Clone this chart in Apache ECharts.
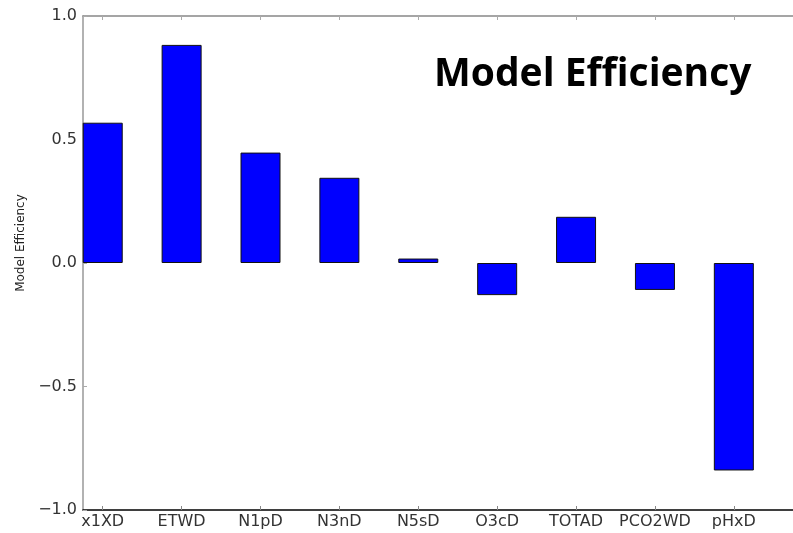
<!DOCTYPE html>
<html><head><meta charset="utf-8">
<script src="https://cdn.jsdelivr.net/npm/echarts@6/dist/echarts.min.js"></script>
<style>html,body{margin:0;padding:0;background:#fff}#c{width:793px;height:533px}</style>
</head><body><div id="c"></div>
<script>
const categories = ['x1XD','ETWD','N1pD','N3nD','N5sD','O3cD','TOTAD','PCO2WD','pHxD'];
const values = [0.568, 0.883, 0.447, 0.345, 0.018, -0.13, 0.187, -0.109, -0.84];
const yTicks = [-1.0, -0.5, 0.0, 0.5, 1.0];
const positions = categories.map((c, i) => i);

const chart = echarts.init(document.getElementById('c'), null, {renderer: 'canvas'});
const fmtY = v => (v < 0 ? '\u2212' : '') + Math.abs(v).toFixed(1);
const tickFont = {fontFamily: 'DejaVu Sans', fontSize: 16, color: '#333'};
chart.setOption({
  animation: false,
  backgroundColor: '#fff',
  title: {
    text: 'Model Efficiency', left: 429, top: 50,
    textStyle: {fontFamily: 'Open Sans', fontWeight: 'bold', fontSize: 39, color: '#000'}
  },
  grid: {left: 83, top: 16, width: 720, height: 494, containLabel: false},
  xAxis: [{
    type: 'value', min: -0.25, max: 8.75, position: 'bottom',
    splitLine: {show: false},
    axisLine: {show: true, onZero: false, lineStyle: {color: '#000', width: 1.5}},
    axisTick: {show: true, inside: true, length: 4, customValues: positions, lineStyle: {color: '#888'}},
    axisLabel: Object.assign({customValues: positions, margin: 4, formatter: v => categories[Math.round(v)] || ''}, tickFont)
  }, {
    type: 'value', min: -0.25, max: 8.75, position: 'top',
    splitLine: {show: false},
    axisLine: {show: true, onZero: false, lineStyle: {color: '#888', width: 1.5}},
    axisTick: {show: true, inside: true, length: 4, customValues: positions, lineStyle: {color: '#aaa'}},
    axisLabel: {show: false}
  }],
  yAxis: {
    type: 'value', min: -1, max: 1, interval: 0.5,
    name: 'Model Efficiency', nameLocation: 'middle', nameGap: 56,
    nameTextStyle: {fontFamily: 'DejaVu Sans', fontSize: 12, color: '#222', padding: [0, 0, 0, 40]},
    splitLine: {show: false},
    axisLine: {show: true, onZero: false, lineStyle: {color: '#999', width: 1.5}},
    axisTick: {show: true, inside: true, length: 4, lineStyle: {color: '#aaa'}},
    axisLabel: Object.assign({margin: 6, formatter: fmtY}, tickFont)
  },
  series: [{
    type: 'bar', xAxisIndex: 0, barWidth: 40,
    data: values.map((v, i) => [positions[i], v]),
    itemStyle: {color: '#0000ff', borderColor: '#111', borderWidth: 1}
  }]
});
</script></body></html>
